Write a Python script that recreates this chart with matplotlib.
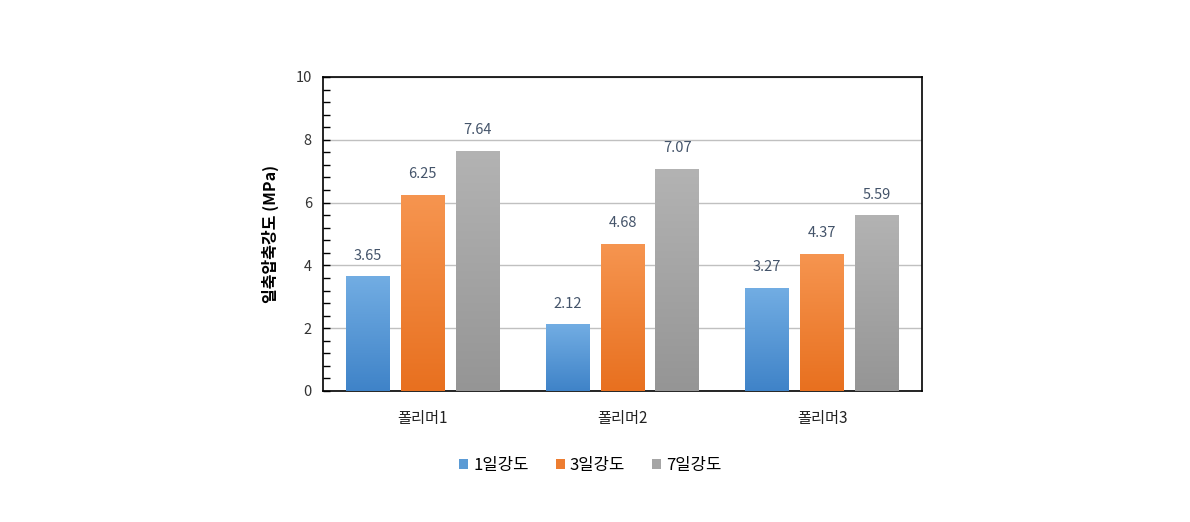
import numpy as np
import matplotlib
matplotlib.use("Agg")
import matplotlib.pyplot as plt
from matplotlib.patches import Rectangle
from matplotlib.ticker import MultipleLocator
from matplotlib.colors import LinearSegmentedColormap

plt.rcParams['font.family'] = ['Noto Sans CJK KR', 'DejaVu Sans']

categories = ['폴리머1', '폴리머2', '폴리머3']
series_names = ['1일강도', '3일강도', '7일강도']
day1 = [3.65, 2.12, 3.27]
day3 = [6.25, 4.68, 4.37]
day7 = [7.64, 7.07, 5.59]
values = [day1, day3, day7]
y_ticks = [0, 2, 4, 6, 8, 10]
y_label = '일축압축강도 (MPa)'

colors_top = ['#72ade3', '#f69550', '#b3b3b3']
colors_bot = ['#3f83c8', '#e8701f', '#959595']
legend_colors = ['#5b9bd5', '#ed7d31', '#a5a5a5']

fig = plt.figure(figsize=(11.9, 5.22), dpi=100)
ax = fig.add_axes([0.2714, 0.2510, 0.5034, 0.6015])

bar_w = 0.22
step = 0.275
x = np.arange(len(categories))
ax.set_xlim(-0.5, len(categories) - 0.5)
ax.set_ylim(0, 10)

for si, (vals, ct, cb) in enumerate(zip(values, colors_top, colors_bot)):
    cmap = LinearSegmentedColormap.from_list('g%d' % si, [cb, ct])
    grad = np.linspace(0, 1, 256).reshape(-1, 1)
    for ci, v in enumerate(vals):
        xc = x[ci] + (si - 1) * step
        rect = Rectangle((xc - bar_w / 2, 0), bar_w, v, facecolor='none',
                         edgecolor='none', zorder=3)
        ax.add_patch(rect)
        im = ax.imshow(grad, cmap=cmap, origin='lower', aspect='auto',
                       extent=(xc - bar_w / 2, xc + bar_w / 2, 0, v), zorder=3)
        im.set_clip_path(rect)
        ax.annotate(f'{v:.2f}', (xc, v), xytext=(0, 15), textcoords='offset points',
                    ha='center', va='center', fontsize=10.5, color='#44546a', zorder=4)
    ax.bar([np.nan], [np.nan], color=legend_colors[si], label=series_names[si])

ax.set_xlim(-0.5, len(categories) - 0.5)
ax.set_ylim(0, 10)
ax.set_yticks(y_ticks)
ax.yaxis.set_minor_locator(MultipleLocator(0.4))
ax.tick_params(axis='y', which='both', direction='in', length=5, width=1,
               labelsize=10.5, labelcolor='#333333', pad=8)
ax.set_xticks(x)
ax.set_xticklabels(categories)
ax.tick_params(axis='x', length=0, labelsize=11, labelcolor='#222222', pad=14)
ax.grid(axis='y', color='#c0c0c0', linewidth=1, zorder=0)
ax.set_axisbelow(True)
for s in ax.spines.values():
    s.set_color('black')
    s.set_linewidth(1.2)

ax.set_ylabel(y_label, fontsize=11.5, fontweight='bold', labelpad=12)

leg = fig.legend(loc='center', bbox_to_anchor=(0.496, 0.108), ncol=3, frameon=False,
                 fontsize=12, handlelength=0.55, handleheight=0.55, handletextpad=0.3,
                 columnspacing=1.6)

fig.savefig('out.png', dpi=100, facecolor='white')
